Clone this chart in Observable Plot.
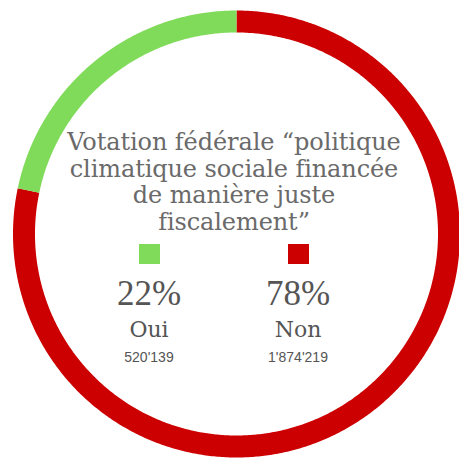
<!DOCTYPE html>
<html>
<head>
<meta charset="utf-8">
<script src="https://cdn.jsdelivr.net/npm/d3@7"></script>
<script src="https://cdn.jsdelivr.net/npm/@observablehq/plot@0.6"></script>
<style>
  html, body { margin: 0; padding: 0; background: #fff; }
  #wrap { position: relative; width: 459px; height: 460px; }
  #wrap svg { position: absolute; left: 0; top: 0; }
  .ov { position: absolute; text-align: center; white-space: nowrap; }
  .title { left: 0; width: 468px; top: 129px; font-family: "DejaVu Serif", serif; font-size: 24px; line-height: 26.5px; color: #6a6a6a; letter-spacing: -0.1px; }
  .sq { width: 21px; height: 20px; top: 244px; }
  .pct { top: 276.5px; width: 120px; font-family: "Liberation Serif", serif; font-size: 35px; line-height: 34px; color: #555; }
  .lab { top: 319px; width: 120px; font-family: "DejaVu Serif", serif; font-size: 22px; line-height: 22px; color: #555; }
  .num { top: 351px; width: 120px; font-family: "Liberation Sans", Arial, sans-serif; font-size: 14px; line-height: 13px; color: #555; }
</style>
</head>
<body>
<div id="wrap"></div>
<script>
// ---- data ----
const title = ["Votation fédérale “politique", "climatique sociale financée", "de manière juste", "fiscalement”"];
const categories = ["Oui", "Non"];
const votes = [520139, 1874219];
const pctLabels = ["22%", "78%"];
const voteLabels = ["520'139", "1'874'219"];
const colors = ["#80DB5A", "#CC0000"];
// clockwise drawing order starting at 12 o'clock
const ringOrder = ["Non", "Oui"];

// ---- build ring geometry from the data (angles from vote shares) ----
const total = d3.sum(votes);
const ringPts = [];
let acc = 0;
for (const c of ringOrder) {
  const i = categories.indexOf(c);
  const a0 = acc / total * 2 * Math.PI;
  acc += votes[i];
  const a1 = acc / total * 2 * Math.PI;
  const n = Math.max(2, Math.ceil((a1 - a0) / (Math.PI / 360)));
  for (let k = 0; k <= n; ++k) {
    const a = a0 + (a1 - a0) * k / n;
    ringPts.push({cat: c, x: Math.sin(a), y: Math.cos(a)});
  }
}

const W = 459, H = 460;
const cx = 236, cy = 233.5, r = 212.5; // ring layout (pixels)
const chart = Plot.plot({
  width: W, height: H,
  margin: 0,
  x: {domain: [-cx / r, (W - cx) / r], axis: null},
  y: {domain: [-(H - cy) / r, cy / r], axis: null},
  color: {domain: categories, range: colors},
  marks: [
    Plot.line(ringPts, {x: "x", y: "y", z: "cat", stroke: "cat", strokeWidth: 22, strokeLinecap: "butt", strokeLinejoin: "round"})
  ]
});
const wrap = document.getElementById("wrap");
wrap.appendChild(chart);

// ---- centered title and legend overlay ----
const t = document.createElement("div");
t.className = "ov title";
t.innerHTML = title.join("<br>");
wrap.appendChild(t);

const legendX = [149, 298];
categories.forEach((c, i) => {
  const sq = document.createElement("div");
  sq.className = "ov sq";
  sq.style.left = (legendX[i] - 10.5) + "px";
  sq.style.background = colors[i];
  wrap.appendChild(sq);
  for (const [cls, txt] of [["pct", pctLabels[i]], ["lab", c], ["num", voteLabels[i]]]) {
    const d = document.createElement("div");
    d.className = "ov " + cls;
    d.style.left = (legendX[i] - 60) + "px";
    d.textContent = txt;
    wrap.appendChild(d);
  }
});
</script>
</body>
</html>
